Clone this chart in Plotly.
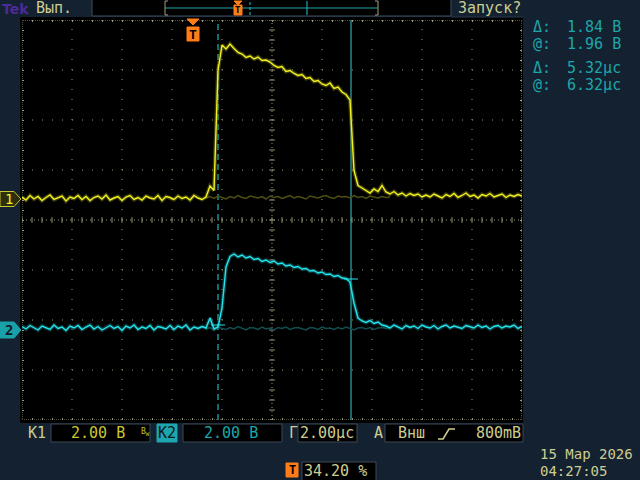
import numpy as np
import plotly.graph_objects as go

TIME_PER_DIV_US = 2.0
SAMPLE_US = 0.16            # spacing of the read-off samples
T_START_US = -6.84          # left screen edge, relative to trigger
TRIGGER_POS_PCT = 34.20
VOLTS_PER_DIV = [2.0, 2.0]
GROUND_DIV = [0.44, -2.16]  # channel ground markers (divisions from centre)

CH1_V = [
    0.04, -0.08, 0.10, -0.04, 0.06, -0.10, 0.02, 0.12, -0.06, 0.00,
    0.08, -0.12, 0.04, -0.02, 0.10, -0.06, 0.06, -0.10, 0.02, 0.08,
    -0.04, 0.12, -0.08, 0.00, 0.06, -0.10, 0.04, 0.10, -0.06, 0.02,
    -0.08, 0.08, 0.00, -0.04, 0.10, -0.10, 0.06, 0.02, -0.06, 0.08,
    -0.02, 0.04, -0.08, 0.10, 0.00, -0.06, 0.04, 0.48, 0.30, 5.10,
    6.12, 5.96, 6.16, 5.98, 5.82, 5.76, 5.62, 5.68, 5.56, 5.64,
    5.50, 5.52, 5.44, 5.30, 5.22, 5.26, 5.06, 5.10, 4.98, 4.90,
    4.94, 4.78, 4.82, 4.66, 4.70, 4.56, 4.50, 4.60, 4.38, 4.44,
    4.24, 4.14, 3.92, 1.10, 0.50, 0.40, 0.30, 0.20, 0.36, 0.26,
    0.50, 0.24, 0.16, 0.26, 0.12, 0.20, 0.08, 0.18, 0.10, 0.16,
    0.04, 0.12, 0.04, 0.16, 0.08, 0.00, 0.14, 0.06, 0.18, 0.02,
    0.10, 0.20, 0.06, 0.12, 0.00, 0.14, 0.08, 0.18, 0.04, 0.10,
    0.16, 0.02, 0.12, 0.06, 0.14, 0.08,
]
CH2_V = [
    0.06, -0.04, 0.10, 0.00, -0.08, 0.08, 0.02, -0.06, 0.12, -0.02,
    0.04, -0.10, 0.08, 0.00, 0.10, -0.06, 0.04, 0.12, -0.04, 0.06,
    -0.08, 0.02, 0.10, -0.02, 0.06, -0.10, 0.08, 0.00, 0.12, -0.06,
    0.04, -0.02, 0.10, -0.08, 0.06, 0.02, -0.04, 0.10, -0.06, 0.08,
    0.00, 0.12, -0.08, 0.04, -0.02, 0.06, 0.00, 0.40, -0.04, 0.04,
    0.80, 2.44, 2.86, 2.96, 2.84, 2.92, 2.80, 2.86, 2.74, 2.78,
    2.66, 2.72, 2.62, 2.68, 2.56, 2.60, 2.48, 2.52, 2.42, 2.46,
    2.36, 2.38, 2.28, 2.30, 2.20, 2.24, 2.14, 2.16, 2.06, 2.10,
    2.00, 1.98, 1.84, 1.00, 0.40, 0.28, 0.22, 0.30, 0.18, 0.24,
    0.12, 0.08, 0.00, 0.12, 0.04, -0.04, 0.10, 0.02, 0.08, -0.02,
    0.12, 0.04, 0.00, 0.10, -0.04, 0.06, 0.12, 0.00, 0.08, 0.04,
    -0.02, 0.10, 0.06, 0.00, 0.12, 0.02, 0.08, -0.04, 0.06, 0.10,
    0.00, 0.08, 0.04, 0.12, -0.02, 0.06,
]
# dim persistence traces left on the baseline under the pulses
GHOST_START = 46
CH1_GHOST_V = [
    0.00, 0.06, -0.02, 0.08, 0.02, -0.04, 0.06, 0.00, 0.10, 0.02,
    -0.02, 0.08, 0.04, 0.00, 0.06, -0.04, 0.08, 0.02, 0.06, -0.02,
    0.04, 0.10, 0.00, 0.06, 0.02, -0.04, 0.08, 0.04, 0.00, 0.06,
    0.10, 0.02, -0.02, 0.08, 0.04, 0.06, 0.00, 0.10, 0.02, 0.06,
    -0.02, 0.08, 0.04, 0.00, 0.06, 0.02, 0.04,
]
CH2_GHOST_V = [
    -0.04, 0.02, -0.08, 0.04, -0.02, -0.06, 0.02, -0.04, 0.06, -0.02,
    -0.08, 0.02, 0.00, -0.06, 0.04, -0.04, 0.00, -0.08, 0.02, -0.02,
    0.04, -0.06, 0.00, 0.02, -0.04, -0.08, 0.02, 0.00, -0.06, 0.04,
    -0.02, 0.00, -0.06, 0.02, -0.04, 0.04, -0.02, -0.08, 0.00, 0.02,
    -0.04, 0.02, -0.06, 0.00, 0.02, -0.02, 0.00,
]

CURSOR_T_US = [1.00, 6.32]
CURSOR_CH2_V = [0.12, 1.96]

READ_DV, READ_V = "1.84 B", "1.96 B"
READ_DT, READ_T = "5.32µс", "6.32µс"
CH_SCALE_TXT = ["2.00 B", "2.00 B"]
TIME_TXT = "2.00µс"
TRIG_SRC, TRIG_LEVEL = "Внш", "800mB"
DATE_TXT, CLOCK_TXT = "15 Мар 2026", "04:27:05"
STATUS_TXT, RUN_TXT = "Вып.", "Запуск?"

# ---------------- style ----------------
NAVY = "#132131"
GRID = "#9a9a7a"
KHAKI = "#cdcd90"
YEL = "#f2f21e"
YEL_DIM = "#c8c830"
CYAN = "#22e6ee"
TEAL = "#1ea6aa"
ORANGE = "#ff7c18"
MONO = "DejaVu Sans Mono"

L, T, W, H = 22, 20, 500, 400
def PX(x): return (x - L) / W
def PY(y): return (T + H - y) / H

t_end = T_START_US + 10 * TIME_PER_DIV_US
t = T_START_US + SAMPLE_US * np.arange(len(CH1_V))
tg = T_START_US + SAMPLE_US * (GHOST_START + np.arange(len(CH1_GHOST_V)))

def to_div(v, ch):
    return GROUND_DIV[ch] + np.asarray(v) / VOLTS_PER_DIV[ch]

fig = go.Figure()
# graticule centre ticks (graticule markings, not data)
cx = T_START_US + 5 * TIME_PER_DIV_US
yt = np.arange(-4, 4.001, 0.2)
xt = T_START_US + np.arange(0, 50.5) * 0.4
fig.add_trace(go.Scatter(x=[cx] * len(yt), y=yt, mode="markers", hoverinfo="skip",
                         marker=dict(symbol="line-ew", size=4, line=dict(width=1, color=GRID))))
fig.add_trace(go.Scatter(x=xt, y=[0] * len(xt), mode="markers", hoverinfo="skip",
                         marker=dict(symbol="line-ns", size=4, line=dict(width=1, color=GRID))))

# persistence traces
fig.add_trace(go.Scatter(x=tg, y=to_div(CH1_GHOST_V, 0), mode="lines", hoverinfo="skip",
                         line=dict(color="#4e4e12", width=1.5)))
fig.add_trace(go.Scatter(x=tg, y=to_div(CH2_GHOST_V, 1), mode="lines", hoverinfo="skip",
                         line=dict(color="#124e50", width=1.5)))
# halos
fig.add_trace(go.Scatter(x=t, y=to_div(CH1_V, 0), mode="lines", hoverinfo="skip",
                         line=dict(color="rgba(120,120,20,0.5)", width=4)))
fig.add_trace(go.Scatter(x=t, y=to_div(CH2_V, 1), mode="lines", hoverinfo="skip",
                         line=dict(color="rgba(20,110,115,0.5)", width=4)))
# main traces
fig.add_trace(go.Scatter(x=t, y=to_div(CH1_V, 0), mode="lines", name="K1",
                         line=dict(color=YEL, width=1.4)))
fig.add_trace(go.Scatter(x=t, y=to_div(CH2_V, 1), mode="lines", name="K2",
                         line=dict(color=CYAN, width=1.4)))

shapes = []
def pshape(**kw):
    d = dict(xref="paper", yref="paper")
    d.update(kw)
    shapes.append(d)

def box(x0, y0, x1, y1, fill="black", line="#3a4858", lw=1, layer="below"):
    pshape(type="rect", x0=PX(x0), x1=PX(x1), y0=PY(y0), y1=PY(y1),
           fillcolor=fill, line=dict(color=line, width=lw), layer=layer)

def ppath(points, fill=None, color=KHAKI, lw=1, close=False):
    s = "M " + " L ".join(f"{PX(a):.5f},{PY(b):.5f}" for a, b in points)
    if close:
        s += " Z"
    d = dict(type="path", path=s, line=dict(color=color, width=lw))
    if fill:
        d["fillcolor"] = fill
    pshape(**d)

# black screen area behind graticule
box(20, 17, 523, 423, fill="black", line="black", lw=0)

# graticule division lines
for k in range(1, 10):
    if k == 5:
        continue
    x = T_START_US + k * TIME_PER_DIV_US
    shapes.append(dict(type="line", xref="x", yref="y", x0=x, x1=x, y0=-4, y1=4, layer="below",
                       line=dict(color=GRID, width=1, dash="1px,9px")))
for j in range(-3, 4):
    if j == 0:
        continue
    shapes.append(dict(type="line", xref="x", yref="y", x0=T_START_US, x1=t_end, y0=j, y1=j,
                       layer="below", line=dict(color=GRID, width=1, dash="1px,9px")))
shapes.append(dict(type="line", xref="x", yref="y", x0=cx, x1=cx, y0=-4, y1=4, layer="below",
                   line=dict(color=GRID, width=1, dash="1px,3px")))
shapes.append(dict(type="line", xref="x", yref="y", x0=T_START_US, x1=t_end, y0=0, y1=0,
                   layer="below", line=dict(color=GRID, width=1, dash="1px,3px")))
shapes.append(dict(type="rect", xref="x", yref="y", x0=T_START_US, x1=t_end, y0=-4, y1=4,
                   layer="below", line=dict(color=GRID, width=1, dash="1px,1px")))

# time cursors
shapes.append(dict(type="line", xref="x", yref="y", x0=CURSOR_T_US[0], x1=CURSOR_T_US[0],
                   y0=-4, y1=4, layer="below", line=dict(color=TEAL, width=1.3, dash="6px,4px")))
shapes.append(dict(type="line", xref="x", yref="y", x0=CURSOR_T_US[1], x1=CURSOR_T_US[1],
                   y0=-4, y1=4, layer="below", line=dict(color="#3aa6ac", width=1.2)))
for ct, cv in zip(CURSOR_T_US, CURSOR_CH2_V):
    yv = GROUND_DIV[1] + cv / VOLTS_PER_DIV[1]
    shapes.append(dict(type="line", xref="x", yref="y", x0=ct - 0.28, x1=ct + 0.28, y0=yv, y1=yv,
                       line=dict(color=CYAN, width=1)))

# top bar
box(92, -2, 451, 16, fill="black", line="#3c4c5e")
pshape(type="line", x0=PX(451), x1=PX(523), y0=PY(17), y1=PY(17), line=dict(color="#2a3a50", width=1))
pshape(type="line", x0=PX(165), x1=PX(378), y0=PY(8), y1=PY(8), line=dict(color=TEAL, width=1))
ppath([(168, 1), (165, 1), (165, 15), (168, 15)], color="#a0a080")
ppath([(375, 1), (378, 1), (378, 15), (375, 15)], color="#a0a080")
pshape(type="line", x0=PX(250), x1=PX(250), y0=PY(2), y1=PY(15),
       line=dict(color=TEAL, width=1.2, dash="3px,2px"))
pshape(type="line", x0=PX(307), x1=PX(307), y0=PY(1), y1=PY(15), line=dict(color=TEAL, width=1.2))
ppath([(234, 1), (242, 1), (238, 5)], fill=ORANGE, color=ORANGE, close=True)
box(234, 5, 242, 15, fill=ORANGE, line=ORANGE, layer="above")

# trigger marker on graticule (t = 0)
trig_px = L + (0 - T_START_US) / (10 * TIME_PER_DIV_US) * W
ppath([(trig_px - 6, 19), (trig_px + 6, 19), (trig_px, 25)], fill=ORANGE, color=ORANGE, close=True)
pshape(type="rect", x0=PX(trig_px - 6), x1=PX(trig_px + 6), y0=PY(27), y1=PY(41),
       fillcolor=ORANGE, line=dict(color=ORANGE, width=1), layer="above")

# channel markers
g1 = T + H / 2 - GROUND_DIV[0] * 50 + 1
g2 = T + H / 2 - GROUND_DIV[1] * 50 + 2
ppath([(0, g1 - 7.5), (14, g1 - 7.5), (21, g1), (14, g1 + 7.5), (0, g1 + 7.5)],
      fill="#2e2e0c", color=YEL_DIM, close=True)
ppath([(0, g2 - 8), (14, g2 - 8), (21, g2), (14, g2 + 8), (0, g2 + 8)],
      fill="#1aa0a8", color="#1aa0a8", close=True)

# bottom readout boxes
box(51, 424, 150, 442)
box(157, 424, 177, 442, fill="#1ea6ae", line="#1ea6ae")
box(183, 424, 282, 442)
box(298, 424, 357, 442)
box(385, 424, 523, 442)
box(302, 462, 376, 482)
box(286, 463, 298, 477, fill=ORANGE, line=ORANGE)
ppath([(438, 439), (443, 439), (446, 434), (449, 429), (455, 429)], color=KHAKI, lw=1.5)

ann = []
def label(x, y, text, color=KHAKI, size=14, xanchor="left", family=MONO):
    ann.append(dict(x=PX(x), y=PY(y), xref="paper", yref="paper", text=text, showarrow=False,
                    xanchor=xanchor, yanchor="middle", font=dict(family=family, size=size, color=color)))

label(0, 9, "<b>Tek</b>", color="#4e2a98", size=14, family="DejaVu Sans")
label(34, 8, STATUS_TXT, size=15)
label(456, 8, RUN_TXT, size=15)
label(238, 10, "<b>T</b>", color="black", size=9, xanchor="center")
label(trig_px, 34, "<b>T</b>", color="black", size=13, xanchor="center")
label(3, g1, "1", color=YEL, size=14)
label(3, g2, "<b>2</b>", color="#0b1822", size=14)

label(531, 27, "Δ:", color=TEAL, size=15)
label(623, 27, READ_DV, color=TEAL, size=15, xanchor="right")
label(531, 44, "@:", color=TEAL, size=15)
label(623, 44, READ_V, color=TEAL, size=15, xanchor="right")
label(531, 68, "Δ:", color=TEAL, size=15)
label(623, 68, READ_DT, color=TEAL, size=15, xanchor="right")
label(531, 85, "@:", color=TEAL, size=15)
label(623, 85, READ_T, color=TEAL, size=15, xanchor="right")

label(26, 433, "K1", size=15)
label(69, 433, CH_SCALE_TXT[0], color=YEL_DIM, size=15)
label(139, 432, "B<sub>W</sub>", color=YEL_DIM, size=8)
label(167, 433, "K2", color="#0b1822", size=15, xanchor="center")
label(202, 433, CH_SCALE_TXT[1], color=TEAL, size=15)
label(287, 433, "Г", size=15)
label(298, 433, TIME_TXT, size=15)
label(372, 433, "A", size=15)
label(396, 433, TRIG_SRC, size=15)
label(523, 433, TRIG_LEVEL, size=15, xanchor="right")
label(292, 470, "<b>T</b>", color="black", size=12, xanchor="center")
label(302, 471, f"{TRIGGER_POS_PCT:.2f} %", size=15)
label(538, 454, DATE_TXT, size=14)
label(538, 471, CLOCK_TXT, size=14)

fig.update_layout(
    width=640, height=480,
    margin=dict(l=L, r=640 - L - W, t=T, b=480 - T - H),
    paper_bgcolor=NAVY, plot_bgcolor="black", showlegend=False,
    shapes=shapes, annotations=ann,
    xaxis=dict(range=[T_START_US, t_end], showgrid=False, zeroline=False, showticklabels=False,
               ticks="inside", tick0=T_START_US, dtick=0.4, ticklen=2, tickcolor=GRID,
               mirror="ticks", showline=False, fixedrange=True),
    yaxis=dict(range=[-4, 4], showgrid=False, zeroline=False, showticklabels=False,
               ticks="inside", tick0=-4, dtick=0.2, ticklen=2, tickcolor=GRID,
               mirror="ticks", showline=False, fixedrange=True),
)
fig.write_html("out.html", config={"displayModeBar": False},
               post_script="document.body.style.margin='0';document.body.style.background='" + NAVY + "';")
